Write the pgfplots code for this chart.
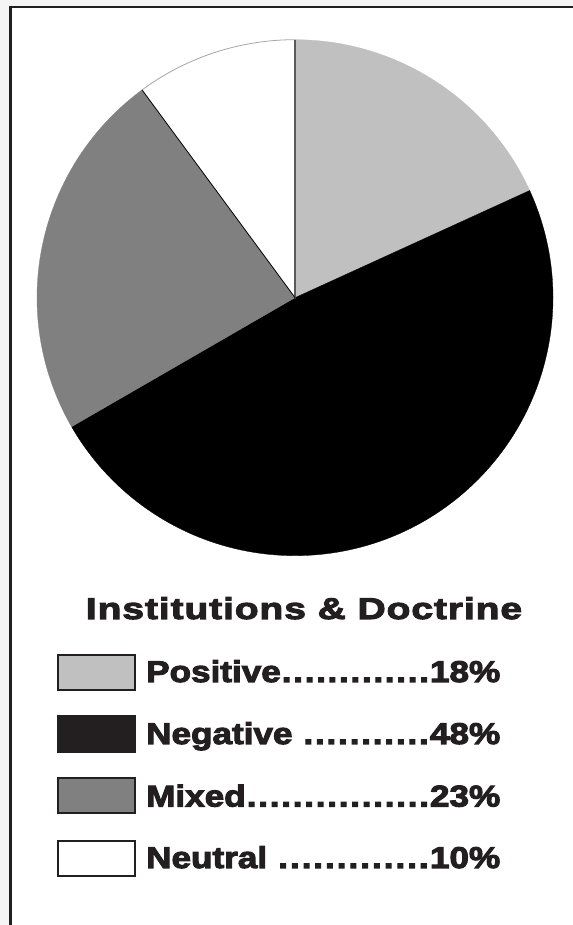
\documentclass[border=0pt]{standalone}
\usepackage{fontspec}
\usepackage{pgfplots}
\usepackage{pgfplotstable}
\pgfplotsset{compat=1.18}
\newfontfamily\heavy{Liberation Sans}[UprightFont={* Bold}, FakeStretch=1.17, FakeBold=3.5]
\newfontfamily\heavytitle{Liberation Sans}[UprightFont={* Bold}, FakeStretch=1.3, FakeBold=3.5, LetterSpace=3]
\definecolor{posc}{HTML}{C0C0C0}
\definecolor{negc}{HTML}{000000}
\definecolor{mixc}{HTML}{808080}
\definecolor{neuc}{HTML}{FFFFFF}
\definecolor{ink}{HTML}{231F20}
\definecolor{legneg}{HTML}{231F20}

\pgfplotstableread{
label value
Positive 18
Negative 48
Mixed 23
Neutral 10
}\piedata

\newcommand{\legrow}[2]{\hbox to 354bp{#1\xleaders\hbox to 11bp{\hss.\hss}\hfill #2\%}}

\begin{document}
\begin{tikzpicture}[x=1bp,y=1bp]
\path[use as bounding box] (0,0) rectangle (573,925);
\fill[black!4] (0,0) rectangle (573,925);
\fill[white] (10.7,0) rectangle (573,918.3);
\draw[ink, line width=2bp] (9.5,918.3) -- (573,918.3);
\draw[ink, line width=2.5bp] (10.7,919.3) -- (10.7,0);

\pgfplotstablegetelem{0}{value}\of\piedata \let\vA\pgfplotsretval
\pgfplotstablegetelem{1}{value}\of\piedata \let\vB\pgfplotsretval
\pgfplotstablegetelem{2}{value}\of\piedata \let\vC\pgfplotsretval
\pgfplotstablegetelem{3}{value}\of\piedata \let\vD\pgfplotsretval
\pgfmathsetmacro\tot{\vA+\vB+\vC+\vD}
\pgfmathsetmacro\aA{90}
\pgfmathsetmacro\aB{\aA-360*(\vA/\tot)}
\pgfmathsetmacro\aC{\aB-360*(\vB/\tot)}
\pgfmathsetmacro\aD{\aC-360*(\vC/\tot)}
\pgfmathsetmacro\aE{\aD-360*(\vD/\tot)}
\pgfmathsetmacro\cx{cos(\aD)}
\pgfmathsetmacro\cy{sin(\aD)}

\begin{axis}[at={(295bp,627.3bp)}, anchor=center, hide axis,
  xmin=-1.05, xmax=1.05, ymin=-1.05, ymax=1.05,
  x=258bp, y=258bp, clip=false]
\addplot[fill=posc, draw=posc, line width=0.3bp, domain=\aB:\aA, samples=90, variable=\t] ({cos(\t)},{sin(\t)}) -- (axis cs:0,0) -- cycle;
\addplot[fill=negc, draw=negc, line width=0.3bp, domain=\aC:\aB, samples=180, variable=\t] ({cos(\t)},{sin(\t)}) -- (axis cs:0,0) -- cycle;
\addplot[fill=mixc, draw=mixc, line width=0.3bp, domain=\aD:\aC, samples=90, variable=\t] ({cos(\t)},{sin(\t)}) -- (axis cs:0,0) -- cycle;
\addplot[fill=neuc, draw=black!35, line width=0.8bp, domain=\aE:\aD, samples=60, variable=\t] ({cos(\t)},{sin(\t)}) -- (axis cs:0,0) -- cycle;
\addplot[draw=black!65, line width=1.2bp] coordinates {(0,0) (0,1)};
\addplot[draw=black, line width=0.8bp] coordinates {(0,0) (\cx,\cy)};
\end{axis}

\node[anchor=base, inner sep=0pt, text=ink, font=\heavytitle\fontsize{30bp}{36bp}\selectfont] at (304,306) {Institutions \& Doctrine};

\draw[ink, line width=2bp, fill=posc] (58,235) rectangle (135,270);
\draw[ink, line width=2bp, fill=legneg] (58,173) rectangle (135,209);
\draw[ink, line width=2bp, fill=mixc] (58,112) rectangle (135,147);
\draw[ink, line width=2bp, fill=white] (58,49) rectangle (135,84);

\begin{scope}[every node/.style={anchor=base west, inner sep=0pt, text=ink, font=\heavy\fontsize{30bp}{36bp}\selectfont}]
\node at (146,243) {\legrow{Positive}{18}};
\node at (146,181) {\legrow{Negative\ }{48}};
\node at (146,118.5) {\legrow{Mixed}{23}};
\node at (146,57) {\legrow{Neutral\ }{10}};
\end{scope}
\end{tikzpicture}
\end{document}
